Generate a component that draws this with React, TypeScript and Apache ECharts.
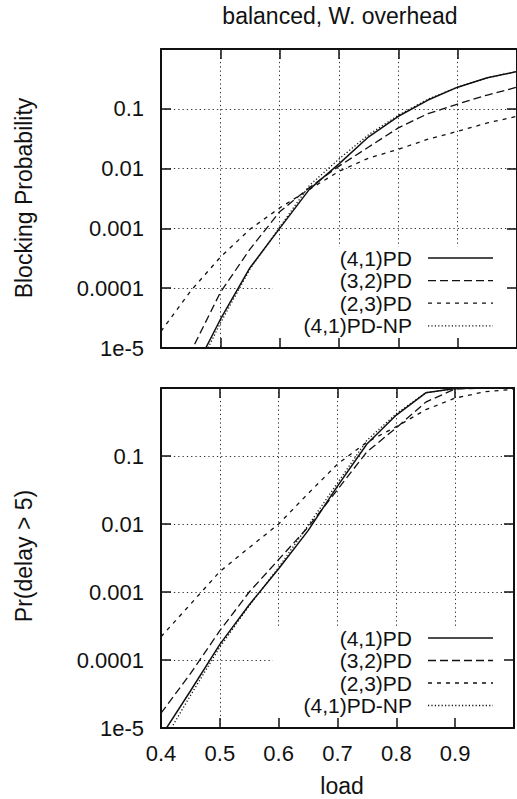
import React, { useEffect, useRef } from 'react';
import * as echarts from 'echarts';

const loads = [0.4, 0.45, 0.5, 0.55, 0.6, 0.65, 0.7, 0.75, 0.8, 0.85, 0.9, 0.95, 1.0];
const seriesNames = ['(4,1)PD', '(3,2)PD', '(2,3)PD', '(4,1)PD-NP'];

// Top panel: Blocking Probability
const blocking41PD = [2.5e-7, 3.2e-6, 3e-5, 2.2e-4, 1e-3, 4.5e-3, 0.012, 0.034, 0.075, 0.14, 0.23, 0.33, 0.42];
const blocking32PD = [6e-7, 8.5e-6, 8.5e-5, 4.5e-4, 0.0019, 0.0048, 0.011, 0.023, 0.048, 0.083, 0.12, 0.17, 0.23];
const blocking23PD = [1.9e-5, 9e-5, 3.3e-4, 9.7e-4, 0.0022, 0.0045, 0.009, 0.015, 0.021, 0.031, 0.042, 0.058, 0.075];
const blocking41NP = [2e-7, 2.6e-6, 2.6e-5, 2.1e-4, 1.05e-3, 5.2e-3, 0.0145, 0.037, 0.078, 0.145, 0.23, 0.33, 0.42];

// Bottom panel: Pr(delay > 5)
const delay41PD = [7.5e-6, 3.5e-5, 1.7e-4, 6.5e-4, 0.0022, 0.008, 0.036, 0.15, 0.4, 0.85, 0.98, 1, 1];
const delay32PD = [1.65e-5, 6.3e-5, 2.7e-4, 1e-3, 0.003, 0.009, 0.032, 0.115, 0.26, 0.62, 0.97, 1, 1];
const delay23PD = [2.2e-4, 6.6e-4, 0.002, 0.0045, 0.01, 0.028, 0.076, 0.16, 0.27, 0.48, 0.71, 0.88, 0.96];
const delay41NP = [5.5e-6, 3e-5, 1.55e-4, 6.3e-4, 0.0023, 0.0095, 0.04, 0.17, 0.42, 0.85, 0.98, 1, 1];

const yTickLabels = ['1e-5', '0.0001', '0.001', '0.01', '0.1', ''];
const xTickLabels = ['0.4', '0.5', '0.6', '0.7', '0.8', '0.9', ''];
const titleText = 'balanced, W. overhead';
const yNames = ['Blocking Probability', 'Pr(delay > 5)'];
const xNameText = 'load';

const FONT = '"Liberation Sans", Arial, Helvetica, sans-serif';
const INK = '#111';

const lineDashes: any[] = ['solid', [8, 4], [4, 5], [1.2, 2.2]];
const lineWidths = [1.5, 1.3, 1.3, 1.3];

const grids = [
  { left: 161, top: 49, width: 360, height: 299 },
  { left: 161, top: 388, width: 393, height: 340 },
];

const panelData = [
  [blocking41PD, blocking32PD, blocking23PD, blocking41NP],
  [delay41PD, delay32PD, delay23PD, delay41NP],
];

const legendRows = [
  [258, 280.6, 303.2, 325.8],
  [638, 660.5, 683, 705.5],
];

export default function App() {
  const ref = useRef<HTMLDivElement>(null);
  useEffect(() => {
    if (!ref.current) return;
    const chart = echarts.init(ref.current, null, { renderer: 'svg' });

    const xAxes: any[] = [];
    const yAxes: any[] = [];
    grids.forEach((_, g) => {
      const xBase = {
        gridIndex: g, type: 'value', min: 0.4, max: 1.0, interval: 0.1,
      };
      xAxes.push({
        ...xBase, position: 'bottom', z: 3,
        axisLine: { show: true, onZero: false, lineStyle: { color: INK, width: 2 } },
        axisTick: { show: true, inside: true, length: 10, lineStyle: { color: INK, width: 1.5 } },
        axisLabel: {
          show: g === 1, margin: 14, fontSize: 22, color: INK, fontFamily: FONT,
          formatter: (v: number) => xTickLabels[Math.round((v - 0.4) * 10)] ?? '',
        },
        splitLine: { show: false },
      });
      xAxes.push({
        ...xBase, position: 'top', z: 3,
        axisLine: { show: true, onZero: false, lineStyle: { color: INK, width: 2 } },
        axisTick: { show: true, inside: true, length: 10, lineStyle: { color: INK, width: 1.5 } },
        axisLabel: { show: false },
        splitLine: { show: false },
      });
      xAxes.push({
        ...xBase, position: 'bottom', z: 0,
        axisLine: { show: false, onZero: false },
        axisTick: { show: false },
        axisLabel: { show: false },
        splitLine: { show: true, lineStyle: { color: '#333', width: 1, type: [1.3, 3] } },
      });
      const yBase = {
        gridIndex: g, type: 'log', logBase: 10, min: 1e-5, max: 1,
      };
      yAxes.push({
        ...yBase, position: 'left', z: 3,
        axisLine: { show: true, onZero: false, lineStyle: { color: INK, width: 2 } },
        axisTick: { show: true, inside: true, length: 10, lineStyle: { color: INK, width: 1.5 } },
        axisLabel: {
          show: true, margin: 17, fontSize: 22, color: INK, fontFamily: FONT,
          formatter: (v: number) => yTickLabels[Math.round(Math.log10(v)) + 5] ?? '',
        },
        splitLine: { show: false },
      });
      yAxes.push({
        ...yBase, position: 'right', z: 3,
        axisLine: { show: true, onZero: false, lineStyle: { color: INK, width: 2 } },
        axisTick: { show: true, inside: true, length: 10, lineStyle: { color: INK, width: 1.5 } },
        axisLabel: { show: false },
        splitLine: { show: false },
      });
      yAxes.push({
        ...yBase, position: 'left', z: 0,
        axisLine: { show: false, onZero: false },
        axisTick: { show: false },
        axisLabel: { show: false },
        splitLine: { show: true, lineStyle: { color: '#333', width: 1, type: [1.3, 3] } },
      });
    });

    const series: any[] = [];
    panelData.forEach((arrs, g) => {
      arrs.forEach((vals, k) => {
        series.push({
          type: 'line',
          name: seriesNames[k],
          xAxisIndex: g * 3,
          yAxisIndex: g * 3,
          data: loads.map((x, i) => [x, vals[i]]),
          showSymbol: false,
          symbol: 'none',
          smooth: false,
          clip: true,
          z: 2,
          lineStyle: { color: INK, width: lineWidths[k], type: lineDashes[k] },
        });
      });
    });

    const elements: any[] = [];
    // key boxes (blank out the grid behind the key, as in gnuplot)
    elements.push({ type: 'rect', z: 1, shape: { x: 273, y: 247, width: 260, height: 100 }, style: { fill: '#fff' } });
    elements.push({ type: 'rect', z: 1, shape: { x: 273, y: 627, width: 300, height: 100 }, style: { fill: '#fff' } });
    legendRows.forEach((rows) => {
      rows.forEach((y, k) => {
        elements.push({
          type: 'text', z: 5, x: 412, y,
          style: {
            text: seriesNames[k], fill: INK, fontSize: 21, lineHeight: 20, fontFamily: FONT,
            align: 'right', verticalAlign: 'middle',
          },
        });
        const dash = lineDashes[k];
        elements.push({
          type: 'line', z: 5,
          shape: { x1: 428, y1: y, x2: 493, y2: y },
          style: { stroke: INK, lineWidth: lineWidths[k], lineDash: dash === 'solid' ? null : dash },
        });
      });
    });
    elements.push({
      type: 'text', z: 5, x: 340, y: 16,
      style: { text: titleText, fill: INK, fontSize: 23, fontFamily: FONT, align: 'center', verticalAlign: 'middle' },
    });
    elements.push({
      type: 'text', z: 5, x: 24, y: 198, rotation: Math.PI / 2,
      style: { text: yNames[0], fill: INK, fontSize: 23, fontFamily: FONT, align: 'center', verticalAlign: 'middle' },
    });
    elements.push({
      type: 'text', z: 5, x: 24, y: 556, rotation: Math.PI / 2,
      style: { text: yNames[1], fill: INK, fontSize: 23, fontFamily: FONT, align: 'center', verticalAlign: 'middle' },
    });
    elements.push({
      type: 'text', z: 5, x: 342, y: 786,
      style: { text: xNameText, fill: INK, fontSize: 23, fontFamily: FONT, align: 'center', verticalAlign: 'middle' },
    });

    chart.setOption({
      animation: false,
      backgroundColor: '#fff',
      grid: grids.map((g) => ({ ...g, containLabel: false })),
      xAxis: xAxes,
      yAxis: yAxes,
      series,
      graphic: { elements },
    });
    return () => chart.dispose();
  }, []);
  return (
    <div
      ref={ref}
      style={{ position: 'absolute', left: 0, top: 0, width: 517, height: 799, background: '#fff' }}
    />
  );
}
